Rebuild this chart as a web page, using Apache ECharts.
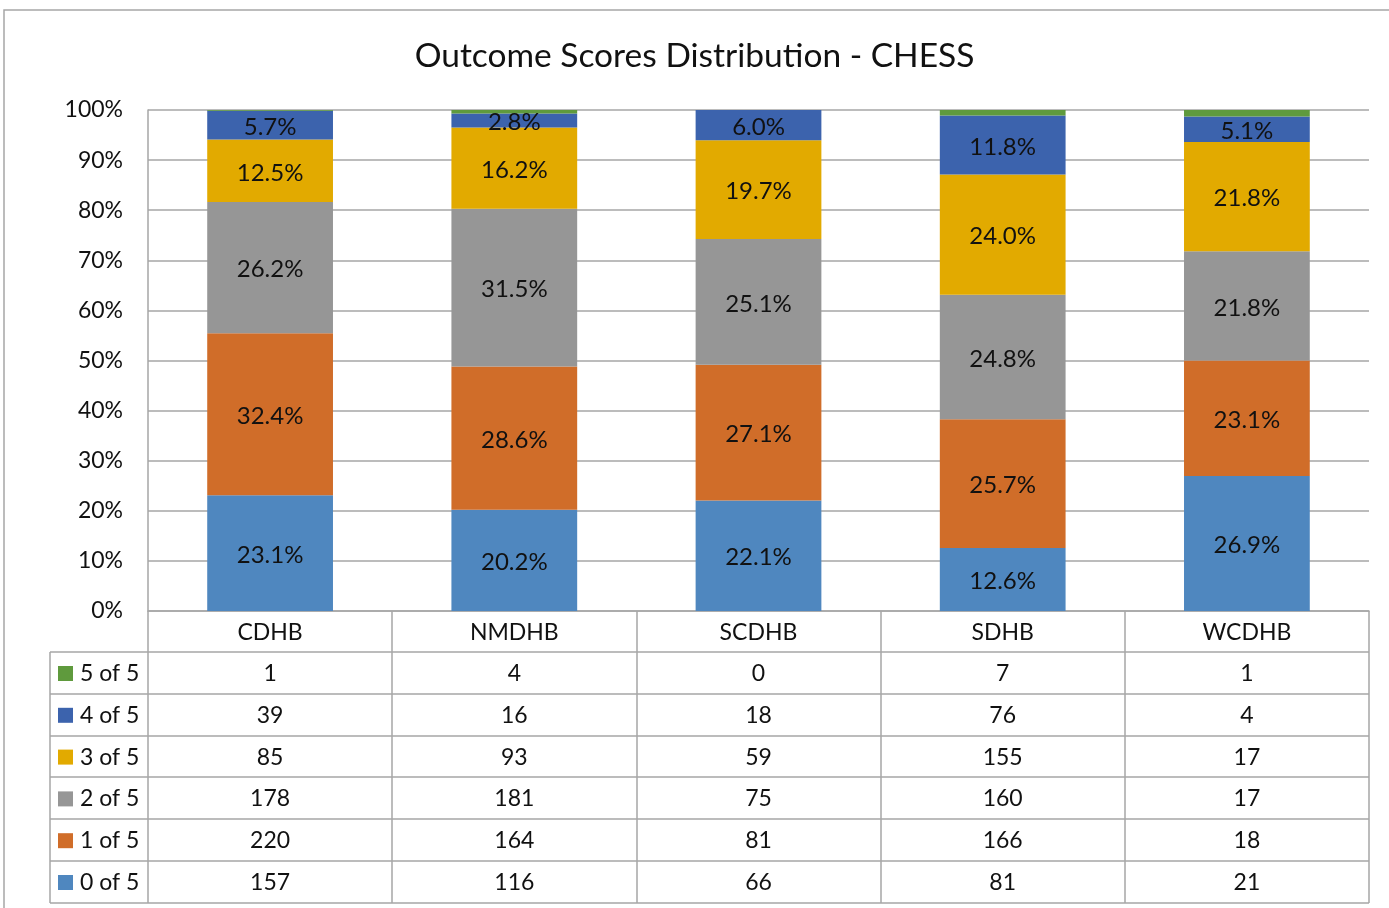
<!doctype html>
<html lang="en">
<head>
    <meta charset="UTF-8">
    <title>Outcome Scores Distribution - CHESS</title>
    <script src="https://cdn.jsdelivr.net/npm/echarts@6/dist/echarts.min.js"></script>
    <style>
        html, body { margin: 0; padding: 0; background: #fff; }
        #main { width: 1389px; height: 908px; }
    </style>
</head>
<body>
<div id="main"></div>
<script type="text/javascript">
    // data (counts from the table)
    var boards = ['CDHB', 'NMDHB', 'SCDHB', 'SDHB', 'WCDHB'];
    var scoreNames = ['0 of 5', '1 of 5', '2 of 5', '3 of 5', '4 of 5', '5 of 5'];
    var score0 = [157, 116, 66, 81, 21];
    var score1 = [220, 164, 81, 166, 18];
    var score2 = [178, 181, 75, 160, 17];
    var score3 = [85, 93, 59, 155, 17];
    var score4 = [39, 16, 18, 76, 4];
    var score5 = [1, 4, 0, 7, 1];
    var yTicks = ['0%', '10%', '20%', '30%', '40%', '50%', '60%', '70%', '80%', '90%', '100%'];

    var counts = [score0, score1, score2, score3, score4, score5];
    var colors = ['#4f87bf', '#d06d29', '#969696', '#e2aa00', '#3c63ad', '#5f9a3d'];
    var font = 'Lato, "Noto Sans", sans-serif';

    // layout of the plot and the table under it
    var gLeft = 148, gRight = 1369, gTop = 110, gBottom = 611;
    var tabLeft = 50, headBottom = 652, rowH = 41.8;

    var totals = boards.map(function (b, i) {
        var t = 0;
        counts.forEach(function (c) { t += c[i]; });
        return t;
    });

    var series = counts.map(function (c, k) {
        return {
            name: scoreNames[k],
            type: 'bar',
            stack: 'all',
            barWidth: '51.5%',
            itemStyle: { color: colors[k] },
            label: {
                show: k < 5,
                position: 'inside',
                offset: [0, 2],
                fontFamily: font,
                fontSize: 24,
                color: '#111',
                formatter: function (p) { return p.value.toFixed(1) + '%'; }
            },
            data: c.map(function (v, i) { return v / totals[i] * 100; })
        };
    });

    // one extra x axis per table row, top row = 5 of 5
    var xAxes = [{
        type: 'category',
        data: boards,
        axisLine: { lineStyle: { color: '#a6a6a6', width: 1.5 } },
        axisTick: { show: true, length: 292, lineStyle: { color: '#a6a6a6', width: 1.5 } },
        axisLabel: { fontFamily: font, fontSize: 23, color: '#111', margin: 10 }
    }];
    for (var r = 0; r < 6; r++) {
        (function (row) {
            xAxes.push({
                type: 'category',
                data: boards,
                position: 'bottom',
                offset: Math.round(41.5 + rowH * r - 0.5),
                axisLine: { show: false },
                axisTick: { show: false },
                axisLabel: {
                    fontFamily: font, fontSize: 23, color: '#111', margin: 10,
                    formatter: function (v, i) { return String(row[i]); }
                }
            });
        })(counts[5 - r]);
    }

    var graphics = [{
        type: 'rect',
        shape: { x: 4, y: 10, width: 1500, height: 1000 },
        style: { fill: 'none', stroke: '#a6a6a6', lineWidth: 1.5 },
        silent: true
    }];
    for (var h = 0; h <= 6; h++) {
        var yy = Math.round(headBottom + rowH * h);
        graphics.push({
            type: 'line',
            shape: { x1: tabLeft, y1: yy, x2: gRight, y2: yy },
            style: { stroke: '#a6a6a6', lineWidth: 1.5 },
            silent: true
        });
    }
    graphics.push({
        type: 'line',
        shape: { x1: tabLeft, y1: headBottom, x2: tabLeft, y2: Math.round(headBottom + rowH * 6) },
        style: { stroke: '#a6a6a6', lineWidth: 1.5 },
        silent: true
    });

    var myChart = echarts.init(document.getElementById('main'));
    var option = {
        animation: false,
        color: colors,
        title: {
            text: 'Outcome Scores Distribution - CHESS',
            left: 'center',
            top: 34,
            textStyle: { fontFamily: font, fontSize: 33.5, fontWeight: 'normal', color: '#111' }
        },
        legend: {
            orient: 'vertical',
            left: 58,
            top: 662,
            padding: 0,
            height: 240,
            itemWidth: 15,
            itemHeight: 15,
            itemGap: 18.8,
            icon: 'rect',
            data: scoreNames.slice().reverse(),
            textStyle: { fontFamily: font, fontSize: 23, color: '#111', padding: [0, 0, 0, 2] }
        },
        grid: {
            left: gLeft,
            right: 1389 - gRight,
            top: gTop,
            bottom: 908 - gBottom,
            containLabel: false
        },
        xAxis: xAxes,
        yAxis: {
            type: 'value',
            min: 0,
            max: 100,
            interval: 10,
            axisLine: { show: true, lineStyle: { color: '#a6a6a6', width: 1.5 } },
            axisTick: { show: false },
            splitLine: { lineStyle: { color: '#a6a6a6', width: 1.5 } },
            axisLabel: {
                fontFamily: font, fontSize: 23, color: '#111', margin: 25,
                formatter: function (v) { return yTicks[Math.round(v / 10)]; }
            }
        },
        graphic: graphics,
        series: series
    };
    myChart.setOption(option);
</script>
</body>
</html>
